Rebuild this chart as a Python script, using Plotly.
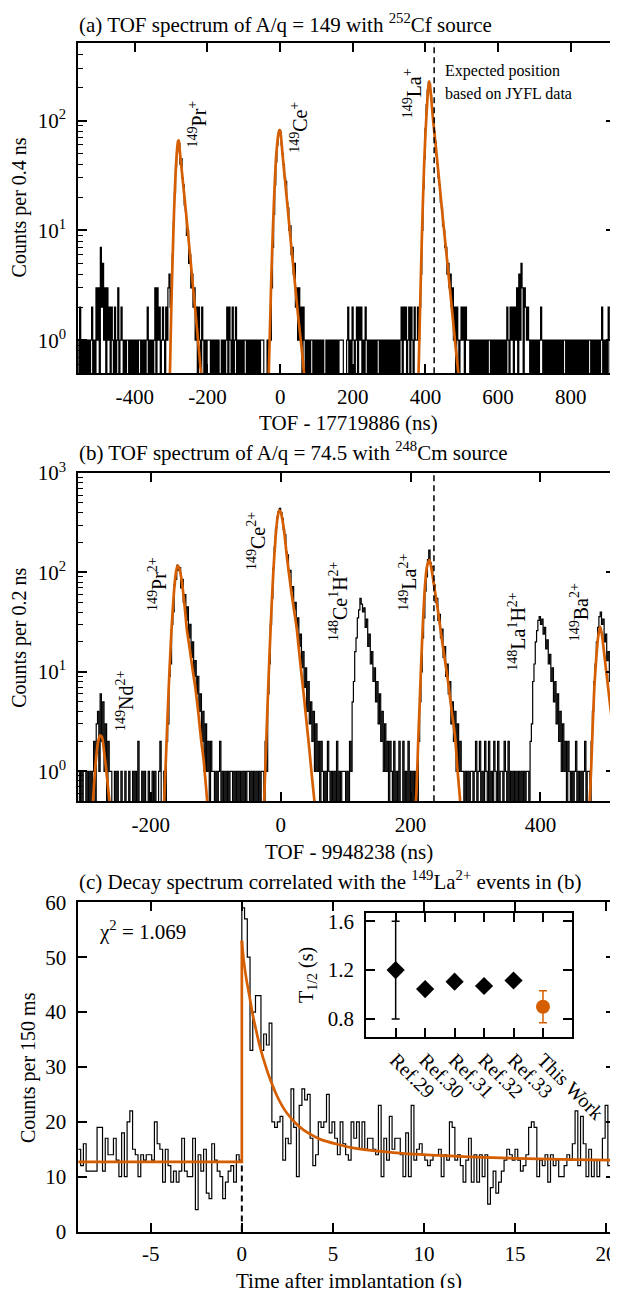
import numpy as np
import plotly.graph_objects as go

# ======================= DATA =======================
# ---------- panel (a): A/q = 149, 252Cf source (display bins of 3 ns) ----------
a_bin_width = 3.0
a_first_edge = -558.0
a_counts_left = [1,0,2,0,1,0,1,0,1,0, 1,0,1,2,0,1,0,3,1,3, 0,7,2,5,1,3,0,3,1,2, 0,2,1,0,2,0,1,3,0,1,
                 2,1,0,1,0,1,1,0,1,0, 1,0,1,0,1,0,1,1,0,1, 0,1,0,1,2,0,1,0,1,0, 1,3,0,3,1,2,0,1,2,1, 0,2,1,3]
a_counts_pr = [4,2,3,6,12,22,38,52,64,62,40,45,30,26,17,15,9,10,5,6,3,4,2,3,1,2,0,2,1,0,2,1]
a_counts_mid1 = [0,1,0,1,1,1,0,1,0,1, 0,1,0,1,0,0,1,0,1,0, 1,2,0,2,1,0,2,0,1,2, 0,1,0,1,0,1,0,1,1,0,
                 1,0,1,0,1,0,1,0,1,0, 1,0,1,1,1,0,0,0,1,0]
a_counts_ce = [1,1,3,7,14,26,42,60,75,82,78,60,50,40,30,28,18,16,10,11,6,7,4,5,2,3,1,3,1,2,0,2,1]
a_counts_mid2 = [0,1,0,1,0,1,1,0,1,0, 1,0,1,0,1,0,1,0,0,1, 0,1,0,1,0,1,0,1,0,1, 0,1,1,1,1,0,0,0,1,2,
                 0,1,0,2,1,0,1,2,0,2, 1,2,0,1,0,2,1,0,1,0, 1,0,1,0,1,0,1,1,0,1, 0,1,0,1,0,1,0,1,0,1,
                 0,1,0,1,0,1,0,1,2,0, 2,1,2,0,1,2,0,2,1,0, 2,1,1,2]
a_counts_la = [1,2,4,10,24,45,85,140,190,225,215,170,130,105,80,65,48,40,30,26,
               18,16,11,10,7,7,4,5,3,4,2,3,1,2,0,2,1,0,1,2]
a_counts_right = [1,2,0,2,1,1,1,0,1,0, 1,0,1,0,1,0,1,0,1,0, 1,0,1,0,1,1,0,1,0,1, 0,1,0,1,0,1,0,1,0,1,
                  0,2,1,0,2,1,2,0,2,1, 3,0,4,1,5,3,0,3,2,1, 2,1,0,1,0,1,0,1,0,1, 0,1,2,1,0,1,0,1,0,1,
                  0,1,0,1,0,1,0,1,0,1, 0,1,0,1,1,0,1,0,1,0, 1,0,1,0,1,0,1,0,1,0, 1,0,1,0,1,0,1,1,0,1,
                  0,1,0,1,0,1,0,1,2,0, 1,0,1,0,2,1,0,1,0,1, 0,1,0,1,2,0,1]
a_fit_pr_x = [-304, -300, -296, -292, -288, -284, -281, -279, -276, -270, -260, -250, -240, -230, -220, -216]
a_fit_pr_y = [0.4, 1.7, 5.5, 15, 32, 53, 65, 66, 52, 33, 15.5, 7, 3.1, 1.4, 0.6, 0.45]
a_fit_ce_x = [-32, -28, -24, -20, -16, -12, -8, -5, -2, 0, 3, 6, 12, 20, 30, 40, 50, 60, 68]
a_fit_ce_y = [0.4, 1.3, 4, 10, 22, 42, 62, 75, 82, 81, 68, 52, 32, 17, 7.5, 3.5, 1.6, 0.8, 0.42]
a_fit_la_x = [380, 384, 388, 392, 396, 400, 404, 407, 410, 412, 416, 420, 430, 440, 450, 460, 470, 480, 490, 494]
a_fit_la_y = [0.35, 1.3, 4.5, 14, 36, 75, 130, 185, 228, 215, 160, 110, 52, 24, 11, 5.2, 2.4, 1.1, 0.52, 0.4]
a_expected_la = 424.0
a_xticks = [-400, -200, 0, 200, 400, 600, 800]
a_labels = ["<sup>149</sup>Pr<sup>+</sup>", "<sup>149</sup>Ce<sup>+</sup>", "<sup>149</sup>La<sup>+</sup>"]

# ---------- panel (b): A/q = 74.5, 248Cm source (display bins of 2 ns) ----------
b_bin_width = 2.0
b_first_edge = -312.0
b_counts_left = [1,0,1,0,1,1,0,1,0,1,0]
b_counts_nd = [1,2,0,3,4,1,6,2,5,1,3,0,2,1]
b_counts_gap1 = [1,0,0,1,0,1,0,0,1,0, 0,1,0,0,1,0,0,1,0,1, 0,2,0,0,1,0,1,0,0,1, 0,0,1,0,1,0,0,1,2,0]
b_counts_pr = [0,1,0,2,3,9,12,30,40,75,85,118,105,112,70,85,50,60,33,45,22,30,14,20,9,13,6,9,4,6,2,4,1,3,1,2,0,2,1]
b_counts_gap2 = [1,0,1,0,1,2,0,1,0,1, 0,1,0,1,1,0,1,0,1,0, 1,0,1,0,1,0,1,1,0,1, 0,1,0,1,0,1,0,1]
b_counts_ce = [1,0,2,1,6,12,30,55,110,180,280,360,410,440,400,350,270,240,160,150,100,105,65,72,42,50,
               28,35,18,24,11,16,7,11,4,8,3,5,2,4,1,3,1,2,0,2,1]
b_counts_gap3 = [0,1,0,2,1,0,1,0,1,0,2,0,1,0,1,1]
b_counts_ceh = [1,0,1,0,2,1,5,8,16,22,35,42,55,48,40,44,28,34,18,24,12,16,8,11,5,8,3,6,2,4,1,3,1,2,0,2]
b_counts_gap4 = [1,0,2,0,1,0,2,0,0,2,0,1,0,2,0,1,0,1]
b_counts_la = [0,1,0,2,5,10,22,35,65,90,135,168,125,115,80,75,50,55,33,38,22,27,14,18,9,12,6,8,3,5,2,4,1,3,1,2,1]
b_counts_gap5 = [1,0,1,0,1,0,1,1,0,1, 2,0,1,2,0,1,0,2,1,0, 2,0,1,0,2,1,0,2,0,1, 1,0,2,1,0,2,0,1,0,1, 0,1,0,1,0,1,0,1,0,1]
b_counts_lah = [1,0,2,3,8,12,20,26,33,36,30,34,24,28,17,21,12,15,8,11,5,8,3,6,2,4,1,3,1,2,0,2,1]
b_counts_gap6 = [0,1,0,1,2,0,1,0,1,0,1,2,0,1]
b_counts_ba = [1,0,2,4,8,12,20,28,36,40,30,34,20,24,13,16,8,11,5,8,3,6,2,4,1,3]
b_fit_nd_x = [-290, -287, -284, -281, -278, -275, -272, -269, -266, -262]
b_fit_nd_y = [0.4, 0.8, 1.4, 2.0, 2.3, 2.2, 1.6, 1.1, 0.7, 0.4]
b_fit_pr_x = [-180, -177, -174, -171, -168, -165, -162, -159, -156, -153, -150, -147, -144.5, -140, -136, -131.6, -127, -122.6, -118.6, -115, -112]
b_fit_pr_y = [0.4, 1.2, 3.8, 11, 27, 55, 92, 117, 110, 88, 62, 40, 27, 17, 11, 7.1, 4, 2.1, 1.3, 0.7, 0.42]
b_fit_ce_x = [-26, -23, -20, -17, -14, -11, -8, -5, -2.5, 0, 3, 6, 9, 13, 17, 21, 24.4, 28, 32, 36, 40, 44, 48, 52, 54]
b_fit_ce_y = [0.4, 1.4, 5, 16, 45, 110, 220, 350, 420, 405, 330, 240, 155, 95, 60, 40, 28.5, 17, 9.5, 5.5, 3.05, 1.7, 0.9, 0.5, 0.38]
b_fit_la_x = [207, 209, 211.5, 214, 216.5, 219.2, 222, 225, 228.5, 231, 234, 238, 242, 247.6, 253, 258, 263, 268.6, 272.5, 276.4, 278]
b_fit_la_y = [0.4, 0.6, 1.8, 4.8, 13, 33, 70, 112, 133, 120, 92, 62, 42, 22.6, 13, 7.7, 4.2, 2.2, 1.0, 0.5, 0.38]
b_fit_ba_x = [475.5, 478, 480.5, 483, 486, 489, 492, 495, 498, 501, 504, 508, 512, 517, 521, 526]
b_fit_ba_y = [0.45, 1.04, 2.9, 7.1, 14, 23, 28.5, 23, 15.5, 10.5, 7.1, 4.2, 2.6, 1.4, 0.9, 0.55]
b_expected_la = 236.0
b_xticks = [-200, 0, 200, 400]
b_labels = ["<sup>149</sup>Nd<sup>2+</sup>", "<sup>149</sup>Pr<sup>2+</sup>", "<sup>149</sup>Ce<sup>2+</sup>",
            "<sup>148</sup>Ce<sup>1</sup>H<sup>2+</sup>", "<sup>149</sup>La<sup>2+</sup>",
            "<sup>148</sup>La<sup>1</sup>H<sup>2+</sup>", "<sup>149</sup>Ba<sup>2+</sup>"]

# ---------- panel (c): decay spectrum (150 ms bins) ----------
c_bin_width = 0.15
c_first_edge = -9.0
c_counts_before = [15,12,16,11,11,11,11,19,19,11, 17,14,14,17,13,10,18,10,20,22, 15,14,10,14,13,14,14,13,20,16,
                   15,9,15,12,9,11,9,11,17,11, 10,10,17,4,14,11,15,7,6,16, 13,11,10,6,9,11,12,9,14,13]
c_counts_after = [59,57,50,33,40,43,43,33,36,34,38,
                  20,19,20,21,13,17,16,26,19,10,23,26,24,25,17,12,14,20,19,20,25,18,
                  20,17,14,20,16,14,13,20,17,20,15,20,15,17,17,15,14,23,10,17,13,
                  21,15,17,17,14,10,18,10,23,13,15,16,14,13,12,13,14,14,15,10,14,13,
                  20,19,13,14,12,9,13,17,9,14,9,14,10,14,5,8,11,7,9,11,
                  13,15,14,13,15,13,11,12,14,19,20,19,10,13,12,14,9,14,12,13,10,
                  10,12,14,13,16,22,12,21,16,10,15,10,13,10,13,17,23,12,9,10,11,6,10]
c_fit_pre_t = [-9.0, 0.0, 0.0]
c_fit_pre_y = [12.7, 12.7, 53.0]
c_fit_t = [0, 0.1, 0.25, 0.44, 0.6, 0.81, 1.0, 1.18, 1.4, 1.55, 1.92, 2.2, 2.47, 3.0, 3.4, 4.0,
           4.32, 5.24, 6.0, 7.09, 8.0, 8.94, 10.78, 12.5, 15, 17.5, 21]
c_fit_y = [53, 49.5, 46, 42.5, 39.5, 36.3, 33.6, 31.5, 29.2, 27.8, 24.8, 23.0, 21.6, 19.6, 18.5, 17.3,
           16.8, 15.9, 15.3, 14.8, 14.5, 14.2, 13.9, 13.6, 13.35, 13.15, 13.0]
c_implant_t = 0.0
c_xticks = [-5, 0, 5, 10, 15, 20]
c_yticks = [0, 10, 20, 30, 40, 50, 60]
c_chi2_text = "χ<sup>2</sup> = 1.069"

# ---------- inset: half-lives ----------
inset_refs = ["Ref.29", "Ref.30", "Ref.31", "Ref.32", "Ref.33"]
inset_ref_vals = [1.20, 1.045, 1.105, 1.07, 1.115]
inset_ref_errs = [0.40, 0.025, 0.02, 0.02, 0.025]
inset_this_label = "This Work"
inset_this_val = [0.90]
inset_this_err = [0.13]
inset_yticks = [0.8, 1.2, 1.6]

# ======================= FIGURE =======================
# Measured mapping of figure pixels to the photographed window:
#   window_x = SX * fig_x + OX ,  window_y = SY * fig_y + OY
SX, OX, SY, OY = 0.936, 8.3, 0.979, 22.0
W, H = 648, 1280
ORANGE = "#D55E00"
FONT = "Liberation Serif"
FRAME_RIGHT = 610.0  # window pixel where the panel frames end (last visible column)


def fx(px):
    return min(1.0, max(0.0, ((px - OX) / SX) / W))


def fy(py):
    return min(1.0, max(0.0, 1 - ((py - OY) / SY) / H))


def fx_free(px):
    return ((px - OX) / SX) / W


def fy_free(py):
    return 1 - ((py - OY) / SY) / H


def step_xy(first_edge, width, counts, log=False):
    c = np.asarray(counts, dtype=float)
    edges = first_edge + width * np.arange(len(c) + 1)
    y = np.append(c, c[-1])
    if log:
        y = np.where(y > 0, y, 1e-3)
    return edges, y


def hyphen(vals):
    return [("-%g" % abs(v)) if v < 0 else "%g" % v for v in vals]


def x_at(px, v0, p0, v1, p1):
    """axis value at window pixel px, for an axis with value v0 at p0 and v1 at p1"""
    return v0 + (px - p0) * (v1 - v0) / (p1 - p0)


a_counts = a_counts_left + a_counts_pr + a_counts_mid1 + a_counts_ce + a_counts_mid2 + a_counts_la + a_counts_right
b_counts = (b_counts_left + b_counts_nd + b_counts_gap1 + b_counts_pr + b_counts_gap2 + b_counts_ce +
            b_counts_gap3 + b_counts_ceh + b_counts_gap4 + b_counts_la + b_counts_gap5 + b_counts_lah +
            b_counts_gap6 + b_counts_ba)
c_counts = c_counts_before + c_counts_after

fig = go.Figure()
hist_line = dict(color="black", width=1.2)
fit_line = dict(color=ORANGE, width=2.7, shape="spline", smoothing=0.6)

ax, ay = step_xy(a_first_edge, a_bin_width, a_counts, log=True)
fig.add_trace(go.Scatter(x=ax, y=ay, mode="lines", line=dict(hist_line, shape="hv"), xaxis="x", yaxis="y"))
for fxs, fys in [(a_fit_pr_x, a_fit_pr_y), (a_fit_ce_x, a_fit_ce_y), (a_fit_la_x, a_fit_la_y)]:
    fig.add_trace(go.Scatter(x=fxs, y=fys, mode="lines", line=fit_line, xaxis="x", yaxis="y"))
bx, by = step_xy(b_first_edge, b_bin_width, b_counts, log=True)
fig.add_trace(go.Scatter(x=bx, y=by, mode="lines", line=dict(hist_line, shape="hv"), xaxis="x2", yaxis="y2"))
for fxs, fys in [(b_fit_nd_x, b_fit_nd_y), (b_fit_pr_x, b_fit_pr_y), (b_fit_ce_x, b_fit_ce_y),
                 (b_fit_la_x, b_fit_la_y), (b_fit_ba_x, b_fit_ba_y)]:
    fig.add_trace(go.Scatter(x=fxs, y=fys, mode="lines", line=fit_line, xaxis="x2", yaxis="y2"))
fig.add_trace(go.Scatter(x=[c_implant_t, c_implant_t], y=[0, c_fit_pre_y[0]], mode="lines",
                         line=dict(color="black", width=2, dash="6px,4px"), xaxis="x3", yaxis="y3"))
cx, cy = step_xy(c_first_edge, c_bin_width, c_counts)
fig.add_trace(go.Scatter(x=cx, y=cy, mode="lines", line=dict(color="black", width=1.2, shape="hv"),
                         xaxis="x3", yaxis="y3"))
fig.add_trace(go.Scatter(x=c_fit_pre_t, y=c_fit_pre_y, mode="lines", line=dict(color=ORANGE, width=2.7),
                         xaxis="x3", yaxis="y3"))
fig.add_trace(go.Scatter(x=c_fit_t, y=c_fit_y, mode="lines", line=fit_line, xaxis="x3", yaxis="y3"))
cats = inset_refs + [inset_this_label]
fig.add_trace(go.Scatter(x=list(range(len(inset_refs))), y=inset_ref_vals, mode="markers",
                         marker=dict(symbol="diamond", size=14, color="black"),
                         error_y=dict(type="data", array=inset_ref_errs, color="black", thickness=1.5, width=4),
                         xaxis="x4", yaxis="y4"))
fig.add_trace(go.Scatter(x=[len(inset_refs)], y=inset_this_val, mode="markers",
                         marker=dict(symbol="circle", size=14, color=ORANGE),
                         error_y=dict(type="data", array=inset_this_err, color=ORANGE, thickness=1.5, width=4),
                         xaxis="x4", yaxis="y4"))

tickfont = dict(family=FONT, size=21, color="black")
base_ax = dict(showline=True, linecolor="black", linewidth=2, mirror="ticks", ticks="inside",
               ticklen=9, tickwidth=1.5, tickcolor="black", showgrid=False, zeroline=False,
               tickfont=tickfont)
xax = dict(base_ax, ticklabelstandoff=4)
yax = dict(base_ax, ticklabelstandoff=6)
minor_log = dict(ticks="inside", ticklen=5, tickwidth=1, tickcolor="black", showgrid=False,
                 tickvals=[0.6, 0.7, 0.8, 0.9, 2, 3, 4, 5, 6, 7, 8, 9, 20, 30, 40, 50, 60, 70, 80, 90,
                           200, 300, 400, 500, 600, 700, 800, 900])
xdom = [fx(78), fx(FRAME_RIGHT)]

layout = dict(
    width=W, height=H, autosize=False, showlegend=False,
    margin=dict(l=0, r=0, t=0, b=0),
    paper_bgcolor="white", plot_bgcolor="white",
    font=dict(family=FONT, color="black"),
    xaxis=dict(xax, domain=xdom, anchor="y",
               range=[x_at(78, -400, 134.0, 800, 566.0), x_at(FRAME_RIGHT, -400, 134.0, 800, 566.0)],
               tickvals=a_xticks, ticktext=hyphen(a_xticks)),
    yaxis=dict(yax, domain=[fy(373), fy(43)], anchor="x", type="log",
               range=[np.log10(0.5), np.log10(508)], tickvals=[1, 10, 100],
               ticktext=["10<sup>0</sup>", "10<sup>1</sup>", "10<sup>2</sup>"], minor=minor_log),
    xaxis2=dict(xax, domain=xdom, anchor="y2",
                range=[x_at(78, -200, 149.8, 400, 536.0), x_at(FRAME_RIGHT, -200, 149.8, 400, 536.0)],
                tickvals=b_xticks, ticktext=hyphen(b_xticks)),
    yaxis2=dict(yax, domain=[fy(800.7), fy(472.7)], anchor="x2", type="log",
                range=[np.log10(0.5), 3], tickvals=[1, 10, 100, 1000],
                ticktext=["10<sup>0</sup>", "10<sup>1</sup>", "10<sup>2</sup>", "10<sup>3</sup>"], minor=minor_log),
    xaxis3=dict(xax, domain=xdom, anchor="y3",
                range=[x_at(78, -5, 149.8, 20, 601.0), x_at(FRAME_RIGHT, -5, 149.8, 20, 601.0)],
                tickvals=c_xticks, ticktext=hyphen(c_xticks), ticklabelstandoff=2),
    yaxis3=dict(yax, domain=[fy(1230.7), fy(901.7)], anchor="x3", range=[0, 60], tickvals=c_yticks),
    xaxis4=dict(base_ax, domain=[fx(363.3), fx(567.7)], anchor="y4", range=[-1, 6],
                tickvals=list(range(len(cats))), ticktext=cats, tickangle=45, ticklabelstandoff=1,
                tickfont=dict(family=FONT, size=20, color="black")),
    yaxis4=dict(yax, domain=[fy(1036.7), fy(912.3)], anchor="x4", range=[0.649, 1.668],
                tickvals=inset_yticks, ticktext=["%.1f" % v for v in inset_yticks]),
)
fig.update_layout(**layout)

for xv, xr, yr in [(a_expected_la, "x", "y domain"), (b_expected_la, "x2", "y2 domain")]:
    fig.add_shape(type="line", xref=xr, yref=yr, x0=xv, x1=xv, y0=0, y1=1,
                  line=dict(color="black", width=1.5, dash="6px,4px"), layer="above")

ann = []


def add_text(text, px, py, size, xanchor="center", yanchor="middle", angle=0):
    ann.append(dict(text=text, x=fx_free(px), y=fy_free(py), xref="paper", yref="paper", showarrow=False,
                    xanchor=xanchor, yanchor=yanchor, textangle=angle,
                    font=dict(family=FONT, size=size, color="black")))


# panel titles
add_text("(a) TOF spectrum of A/q = 149 with <sup>252</sup>Cf source", 77, 23, 21, xanchor="left")
add_text("(b) TOF spectrum of A/q = 74.5 with <sup>248</sup>Cm source", 77, 451, 21, xanchor="left")
add_text("(c) Decay spectrum correlated with the <sup>149</sup>La<sup>2+</sup> events in (b)", 77, 880, 21,
         xanchor="left")
# axis titles
add_text("TOF - 17719886 (ns)", 346, 423, 21)
add_text("TOF - 9948238 (ns)", 346, 851, 21)
add_text("Time after implantation (s)", 346, 1280, 21)
add_text("Counts per 0.4 ns", 19.5, 207, 20, angle=-90)
add_text("Counts per 0.2 ns", 19.5, 637, 20, angle=-90)
add_text("Counts per 150 ms", 28.5, 1067, 20, angle=-90)
# peak labels (a)
for t, (px, py) in zip(a_labels, [(196, 124), (296.5, 127), (409, 93)]):
    add_text(t, px, py, 20, angle=-90)
add_text("Expected position", 439.5, 71, 16, xanchor="left")
add_text("based on JYFL data", 439.5, 93, 16, xanchor="left")
# peak labels (b)
for t, (px, py) in zip(b_labels, [(124.7, 700), (156.5, 584), (254.7, 541), (336, 601),
                                  (405, 582), (513, 631), (575, 612)]):
    add_text(t, px, py, 20, angle=-90)
# panel (c)
add_text(c_chi2_text, 96.5, 930, 21, xanchor="left")
add_text("T<sub>1/2</sub> (s)", 305, 974, 20, angle=-90)

fig.update_layout(annotations=ann)
fig.write_html("out.html")
